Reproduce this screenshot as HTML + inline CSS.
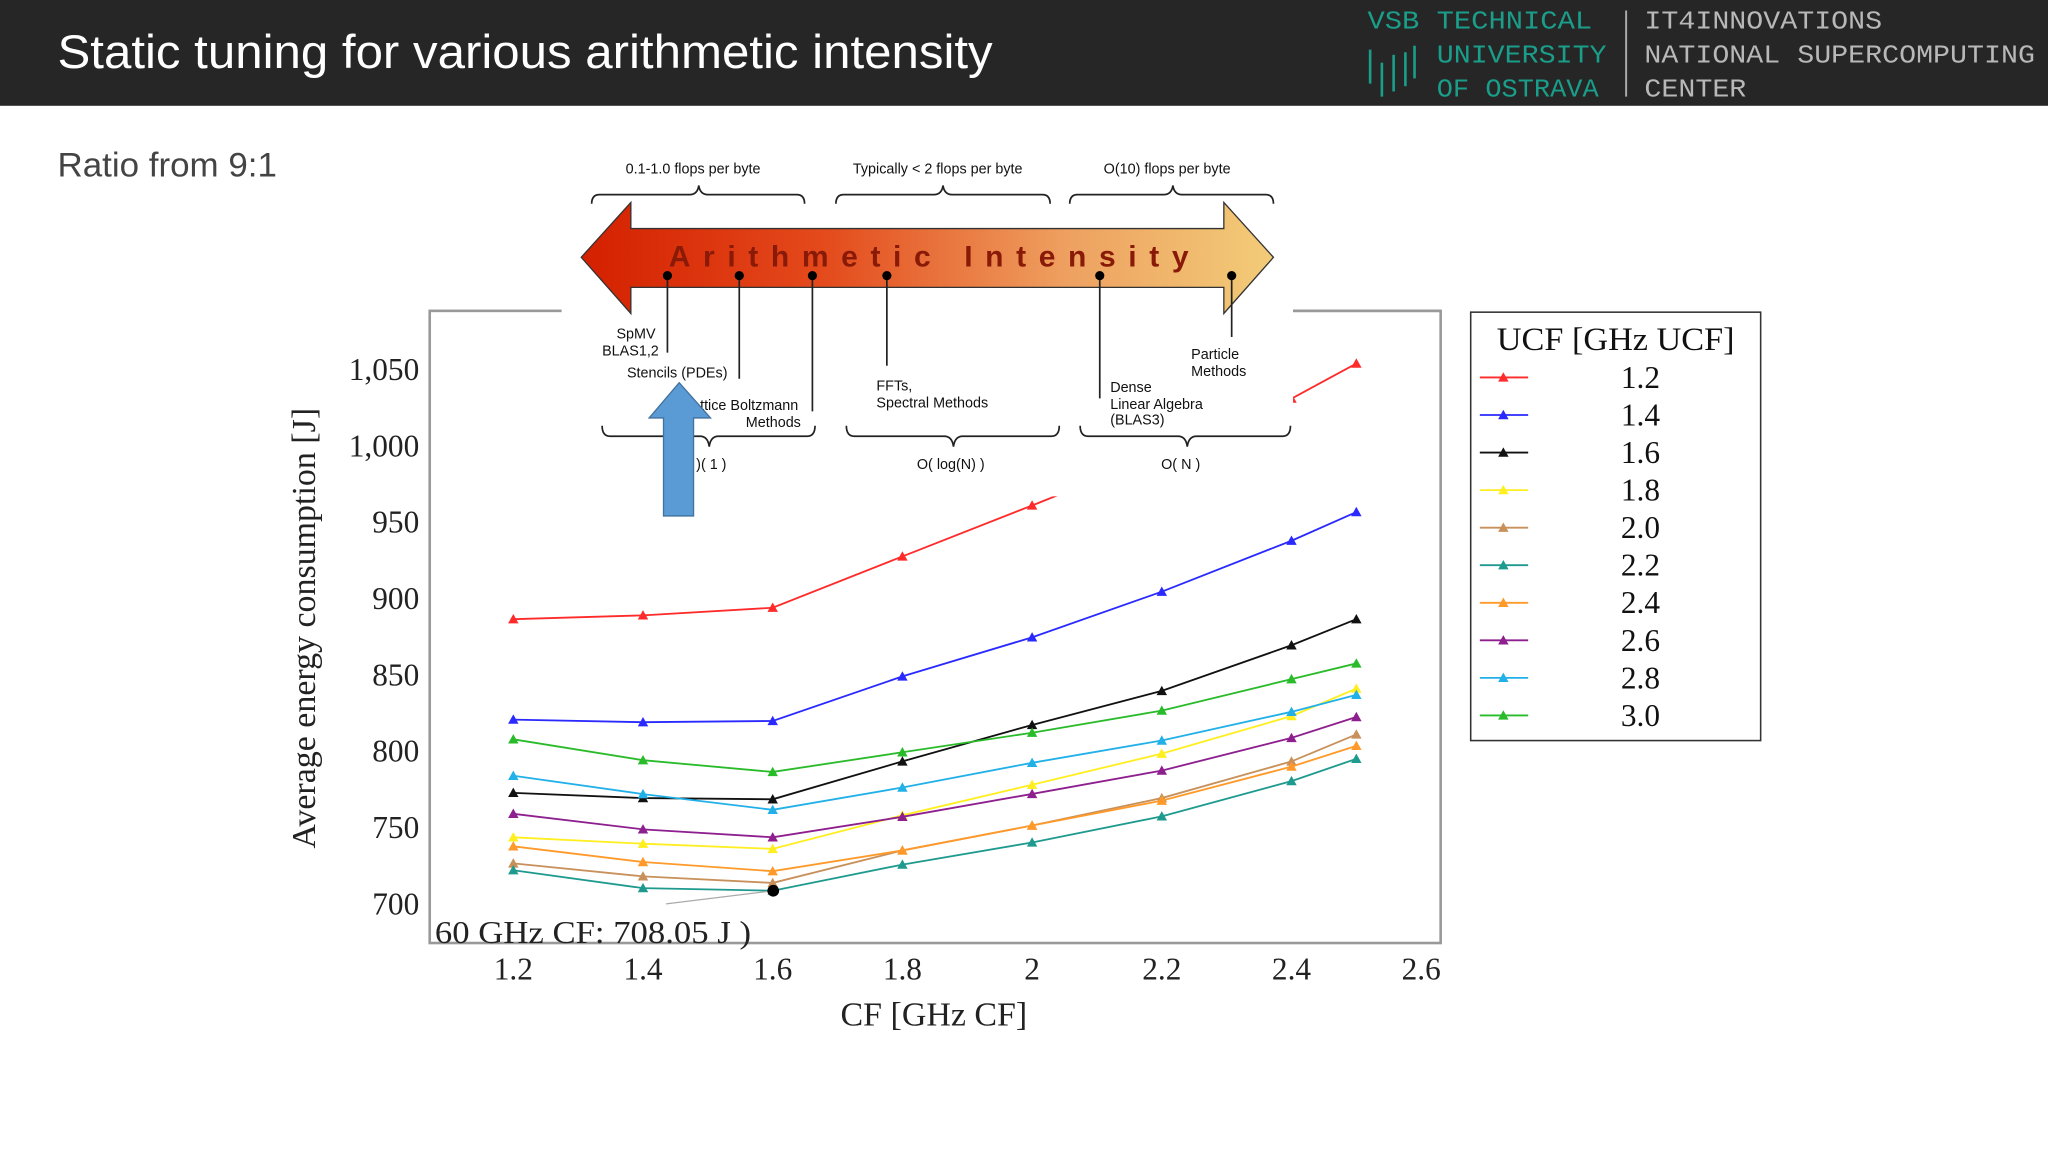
<!DOCTYPE html>
<html><head><meta charset="utf-8"><style>
html,body{margin:0;padding:0;background:#fff;width:2048px;height:1152px;overflow:hidden}
svg{display:block}
</style></head><body>
<svg id="slide" width="2048" height="1152" viewBox="0 0 1568 882" xmlns="http://www.w3.org/2000/svg" font-family="Liberation Sans, sans-serif">
<defs>
<linearGradient id="ag" x1="0" x2="1" y1="0" y2="0">
<stop offset="0" stop-color="#d42000"/><stop offset="0.35" stop-color="#e44a1c"/><stop offset="0.7" stop-color="#eea060"/><stop offset="1" stop-color="#f2cc78"/>
</linearGradient>
</defs>
<g>
<rect x="0" y="0" width="1568" height="81" fill="#262626"/>
<text x="44" y="52" font-size="36" fill="#ffffff" textLength="716" lengthAdjust="spacingAndGlyphs">Static tuning for various arithmetic intensity</text>
<g font-family="Liberation Mono, monospace" font-size="20" fill="#1a9e8a">
<text x="1047" y="22" textLength="172" lengthAdjust="spacingAndGlyphs">VSB TECHNICAL</text>
<text x="1100" y="48" textLength="130" lengthAdjust="spacingAndGlyphs">UNIVERSITY</text>
<text x="1100" y="74" textLength="124" lengthAdjust="spacingAndGlyphs">OF OSTRAVA</text>
<g stroke="#1a9e8a" stroke-width="2"><line x1="1049" y1="38" x2="1049" y2="64"/><line x1="1058" y1="48" x2="1058" y2="74"/><line x1="1067" y1="42" x2="1067" y2="70"/><line x1="1076" y1="40" x2="1076" y2="66"/><line x1="1083" y1="35" x2="1083" y2="60"/></g>
</g>
<line x1="1245" y1="8" x2="1245" y2="74" stroke="#aaa" stroke-width="1.5"/>
<g font-family="Liberation Mono, monospace" font-size="20" fill="#b8b8b8">
<text x="1259" y="22" textLength="182" lengthAdjust="spacingAndGlyphs">IT4INNOVATIONS</text>
<text x="1259" y="48" textLength="299" lengthAdjust="spacingAndGlyphs">NATIONAL SUPERCOMPUTING</text>
<text x="1259" y="74" textLength="78" lengthAdjust="spacingAndGlyphs">CENTER</text>
</g>
</g>
<text x="44" y="135" font-size="26" fill="#444" textLength="168" lengthAdjust="spacingAndGlyphs">Ratio from 9:1</text>

<g id="chart" font-family="Liberation Serif, serif">
<g id="grid"></g>
<g id="axes"></g>
<g id="series"></g>
</g>

<g>
<line x1="510" y1="692" x2="592" y2="682" stroke="#aaa" stroke-width="1"/>
<circle cx="592" cy="682" r="4.5" fill="#000"/>
<text x="333" y="722" font-family="Liberation Serif, serif" font-size="24" fill="#222" textLength="242" lengthAdjust="spacingAndGlyphs">60 GHz CF: 708.05 J )</text>
</g>

<g>
<rect x="430" y="112" width="560" height="268" fill="#fff"/>
<line x1="990" y1="238" x2="1103" y2="238" stroke="#999" stroke-width="2"/>
<polygon points="445,197 483,155 483,175 937,175 937,155 975,197 937,240 937,220 483,220 483,240" fill="url(#ag)" stroke="#333" stroke-width="1"/>
<text x="512" y="204" font-family="Liberation Sans, sans-serif" font-weight="bold" font-size="23" fill="#8a1a08" textLength="398" lengthAdjust="spacing">Arithmetic Intensity</text>
<g font-family="Liberation Sans, sans-serif" font-size="11" fill="#111">
<text x="479" y="133">0.1-1.0 flops per byte</text>
<text x="653" y="133">Typically &lt; 2 flops per byte</text>
<text x="845" y="133">O(10) flops per byte</text>
<text x="472" y="259">SpMV</text><text x="461" y="272">BLAS1,2</text>
<text x="480" y="289">Stencils (PDEs)</text>
<text x="536" y="314">ttice Boltzmann</text><text x="571" y="327">Methods</text>
<text x="671" y="299">FFTs,</text><text x="671" y="312">Spectral Methods</text>
<text x="850" y="300">Dense</text><text x="850" y="313">Linear Algebra</text><text x="850" y="325">(BLAS3)</text>
<text x="912" y="275">Particle</text><text x="912" y="288">Methods</text>
<text x="533" y="359">)( 1 )</text>
<text x="702" y="359">O( log(N) )</text>
<text x="889" y="359">O( N )</text>
</g>
<g stroke="#222" stroke-width="1.3" fill="none">
<path d="M453,156 q0,-7 6,-7 h69 q6,0 7,-7 q1,7 7,7 h68 q6,0 6,7"/>
<path d="M640,156 q0,-7 6,-7 h69 q6,0 7,-7 q1,7 7,7 h69 q6,0 6,7"/>
<path d="M819,156 q0,-7 6,-7 h66 q6,0 7,-7 q1,7 7,7 h64 q6,0 6,7"/>
<path d="M461,326 q0,8 6,8 h69 q6,0 7,8 q1,-8 7,-8 h68 q6,0 6,-8"/>
<path d="M648,326 q0,8 6,8 h69 q6,0 7,8 q1,-8 7,-8 h68 q6,0 6,-8"/>
<path d="M827,326 q0,8 6,8 h69 q6,0 7,8 q1,-8 7,-8 h66 q6,0 6,-8"/>
<line x1="511" y1="211" x2="511" y2="270"/><line x1="566" y1="211" x2="566" y2="290"/>
<line x1="622" y1="211" x2="622" y2="315"/><line x1="679" y1="211" x2="679" y2="280"/>
<line x1="842" y1="211" x2="842" y2="305"/><line x1="943" y1="211" x2="943" y2="258"/>
</g>
<g fill="#000"><circle cx="511" cy="211" r="3.5"/><circle cx="566" cy="211" r="3.5"/><circle cx="622" cy="211" r="3.5"/><circle cx="679" cy="211" r="3.5"/><circle cx="842" cy="211" r="3.5"/><circle cx="943" cy="211" r="3.5"/></g>
<polygon points="520,293 544,320 531,320 531,395 508,395 508,320 497,320" fill="#5b9bd5" stroke="#41719c" stroke-width="1"/>
</g>

<g id="legend" font-family="Liberation Serif, serif">
<rect x="1126" y="239" width="222" height="328" fill="#fff" stroke="#333" stroke-width="1.2"/>
<text x="1146" y="268" font-size="25" fill="#111" textLength="182" lengthAdjust="spacingAndGlyphs">UCF [GHz UCF]</text>
</g>

<script>
var xValues = [1.2, 1.4, 1.6, 1.8, 2.0, 2.2, 2.4, 2.5];
var xTicks = [1.2, 1.4, 1.6, 1.8, 2, 2.2, 2.4, 2.6];
var yTicks = [700, 750, 800, 850, 900, 950, 1000, 1050];
var yTickLabels = ["700", "750", "800", "850", "900", "950", "1,000", "1,050"];
var seriesNames = ["1.2", "1.4", "1.6", "1.8", "2.0", "2.2", "2.4", "2.6", "2.8", "3.0"];
var s12 = [886.5, 889, 894, 927.6, 961, 995, 1031, 1054];
var s14 = [820.7, 819, 819.8, 849, 874.6, 904.5, 937.9, 956.7];
var s16 = [772.7, 769.3, 768.5, 793.3, 817.2, 839.5, 869.4, 886.5];
var s18 = [743.6, 739.4, 736, 758, 778, 798.4, 823, 841];
var s20 = [726.5, 718, 713.7, 735, 751.3, 769.3, 793.3, 811];
var s22 = [722, 710.3, 708.6, 725.7, 740.2, 757.3, 780.4, 795];
var s24 = [737.7, 727.4, 721.4, 735, 751.3, 767.6, 789.9, 803.5];
var s26 = [759, 748.8, 743.6, 757, 772, 787.3, 808.7, 822.4];
var s28 = [783.9, 771.9, 761.6, 776.2, 792.4, 807, 825.8, 836.9];
var s30 = [807.8, 794.1, 786.4, 799.3, 812.1, 826.6, 847.2, 857.5];
var allSeries = [s12, s14, s16, s18, s20, s22, s24, s26, s28, s30];
var colors = ["#ff2a2a", "#2a2aff", "#111111", "#ffee20", "#c8905a", "#1f9a8e", "#ff9a2a", "#8e1f8e", "#22b0e8", "#2abb2a"];

var NS = "http://www.w3.org/2000/svg";
var PL = 329, PR = 1103, PT = 238, PB = 722;
function xs(v){ return 393 + (v - 1.2) / 0.2 * 99.3; }
function ys(v){ return 692 - (v - 700) / 50 * 58.43; }
function mk(tag, attrs, parent){ var e = document.createElementNS(NS, tag); for (var k in attrs) e.setAttribute(k, attrs[k]); parent.appendChild(e); return e; }

var grid = document.getElementById('grid');
var axes = document.getElementById('axes');
var series = document.getElementById('series');
mk('rect', {x:PL, y:PT, width:PR-PL, height:PB-PT, fill:'#fff', stroke:'#999', 'stroke-width':2}, axes);
xTicks.forEach(function(t){
  var g = mk('line', {x1:xs(t), x2:xs(t), y1:PT, y2:PB, stroke:'#ccc', 'stroke-dasharray':'5,5'}, grid);
  
  
  var lb = mk('text', {x:xs(t), y:750, 'font-size':24, 'text-anchor':'middle', fill:'#222'}, axes);
  lb.textContent = String(t);
  
  
});
yTicks.forEach(function(t, i){
  var g = mk('line', {x1:PL, x2:PR, y1:ys(t), y2:ys(t), stroke:'#ccc', 'stroke-dasharray':'5,5'}, grid);
  
  
  var lb = mk('text', {x:321, y:ys(t)+8, 'font-size':24, 'text-anchor':'end', fill:'#222'}, axes);
  lb.textContent = yTickLabels[i];
  
  
});
var xt = mk('text', {x:715, y:785, 'font-size':26, 'text-anchor':'middle', fill:'#222'}, axes);
xt.textContent = 'CF [GHz CF]';


var yt = mk('text', {x:0, y:0, 'font-size':26, 'text-anchor':'middle', fill:'#222', transform:'translate(241,481) rotate(-90)'}, axes);
yt.textContent = 'Average energy consumption [J]';



function tri(cx, cy, s){ return (cx)+','+(cy-s)+' '+(cx-s)+','+(cy+s*0.8)+' '+(cx+s)+','+(cy+s*0.8); }
allSeries.forEach(function(vals, si){
  var g = mk('g', {}, series);
  
  
  var pts = vals.map(function(v, i){ return xs(xValues[i]) + ',' + ys(v); }).join(' ');
  var pl = mk('polyline', {points:pts, fill:'none', stroke:colors[si], 'stroke-width':1.4}, g);
  
  
  vals.forEach(function(v, i){
    var m = mk('polygon', {points:tri(xs(xValues[i]), ys(v), 4), fill:colors[si]}, g);
    
    
  });
});

var legend = document.getElementById('legend');
seriesNames.forEach(function(n, i){
  var y = 289 + i * 28.75;
  var g = mk('g', {}, legend);
  
  
  mk('line', {x1:1133, x2:1170, y1:y, y2:y, stroke:colors[i], 'stroke-width':1.4}, g);
  mk('polygon', {points:tri(1151, y, 4), fill:colors[i]}, g);
  var t = mk('text', {x:1256, y:y+8, 'font-size':24, 'text-anchor':'middle', fill:'#111'}, g);
  t.textContent = n;
});
// move overlay figure and annotation above the chart (they're declared later in DOM already)
</script>
</svg>
</body></html>
